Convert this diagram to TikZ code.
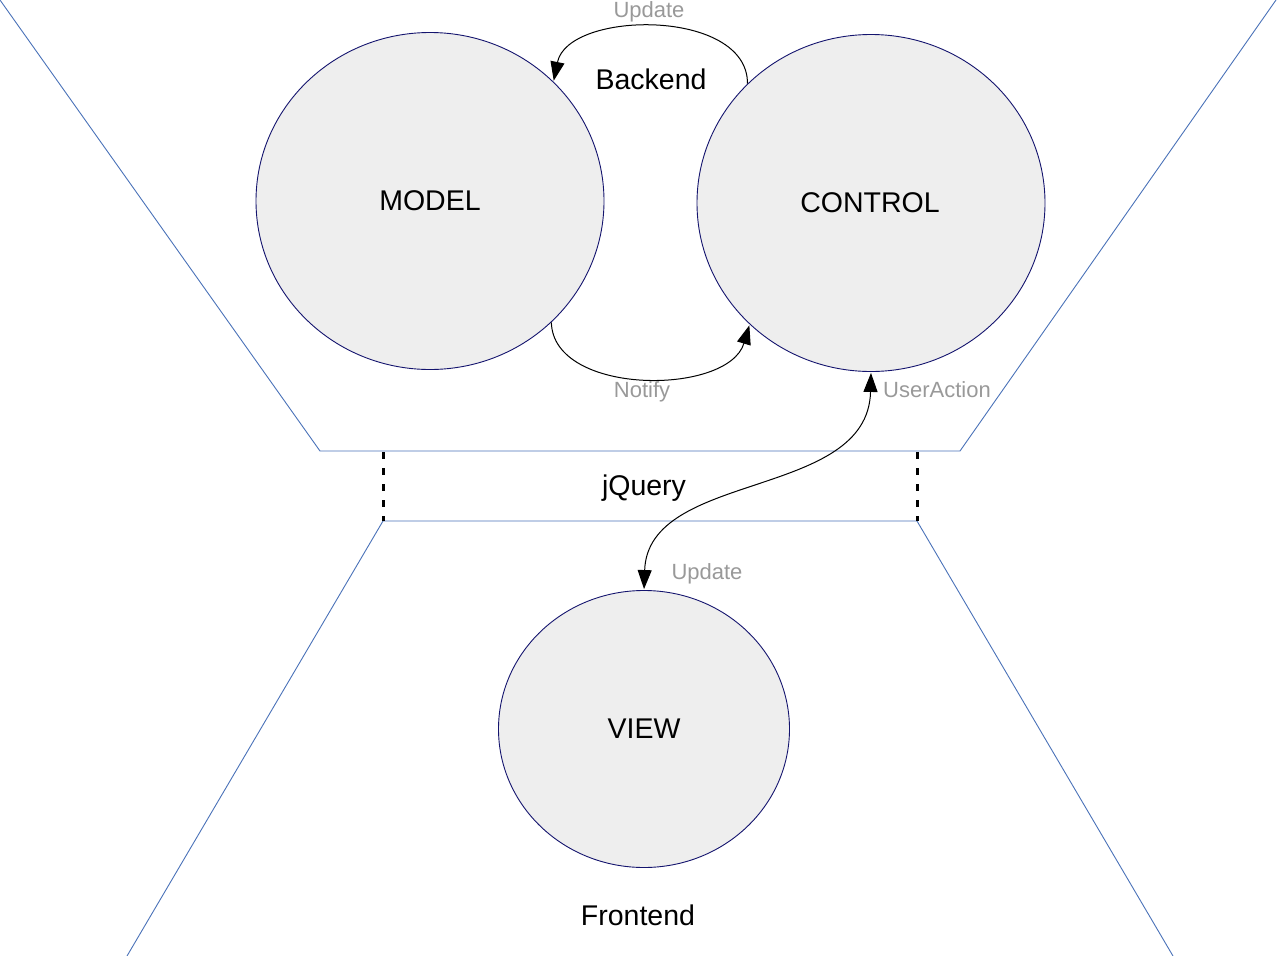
\documentclass[tikz,border=0pt]{standalone}
\usepackage{fontspec}
\setmainfont{Liberation Sans}
\usetikzlibrary{arrows.meta,shapes.geometric}
\definecolor{frameblue}{RGB}{74,114,184}
\definecolor{circborder}{RGB}{20,20,110}
\definecolor{circfill}{RGB}{238,238,238}
\definecolor{lblgray}{RGB}{153,153,153}
\tikzset{
  frame/.style={draw=frameblue, line width=0.9pt},
  sep/.style={draw=black, line width=3pt, dash pattern=on 7pt off 9pt},
  circ/.style={ellipse, draw=circborder, fill=circfill, line width=0.9pt, inner sep=0pt},
  bigtxt/.style={font=\fontsize{28.5}{34}\selectfont, text=black},
  lbl/.style={font=\fontsize{22}{26}\selectfont, text=lblgray},
  conn/.style={draw=black, line width=1pt},
  tip/.style={-{Triangle[length=19pt,width=14pt]}},
  tips/.style={{Triangle[length=19pt,width=14pt]}-{Triangle[length=19pt,width=14pt]}}
}
\begin{document}
\begin{tikzpicture}[x=1pt,y=-1pt]
\useasboundingbox (0,0) rectangle (1278,956);
\clip (0,0) rectangle (1278,956);
% frames
\draw[frame] (0,0) -- (320,451) -- (960,451) -- (1276,0);
\draw[frame] (127,956) -- (383,521) -- (917,521) -- (1173,956);
\draw[sep] (383,452) -- (383,521);
\draw[sep] (917,452) -- (917,521);
% circles
\node[circ, minimum width=348pt, minimum height=337pt] (model) at (430,201) {};
\node[circ, minimum width=348pt, minimum height=337pt] (control) at (871,203) {};
\node[circ, minimum width=291pt, minimum height=277pt] (view) at (644,729) {};
\node[bigtxt] (modeltxt) at (430,201) {MODEL};
\node[bigtxt] (controltxt) at (870,203) {CONTROL};
\node[bigtxt] (viewtxt) at (644,729) {VIEW};
\node[bigtxt] (backend) at (651,79) {Backend};
\node[bigtxt] (jquery) at (644,488) {jQuery};
\node[bigtxt] (frontend) at (638,915) {Frontend};
% connectors
\draw[conn, tip, shorten >=1pt] (control.136) .. controls (748,8) and (568,10) .. (model.44);
\draw[conn, tip, shorten >=1pt] (model.-45) .. controls (553,396) and (728,396) .. (control.-135);
\draw[conn, tips, shorten >=1pt, shorten <=1pt] (view.north) .. controls (648,470) and (868,500) .. (control.south);
% labels
\node[lbl] (updtop) at (649,12) {Update};
\node[lbl] (notify) at (642,392) {Notify};
\node[lbl] (useraction) at (937,390) {UserAction};
\node[lbl] (updview) at (707,574) {Update};
\end{tikzpicture}
\end{document}
